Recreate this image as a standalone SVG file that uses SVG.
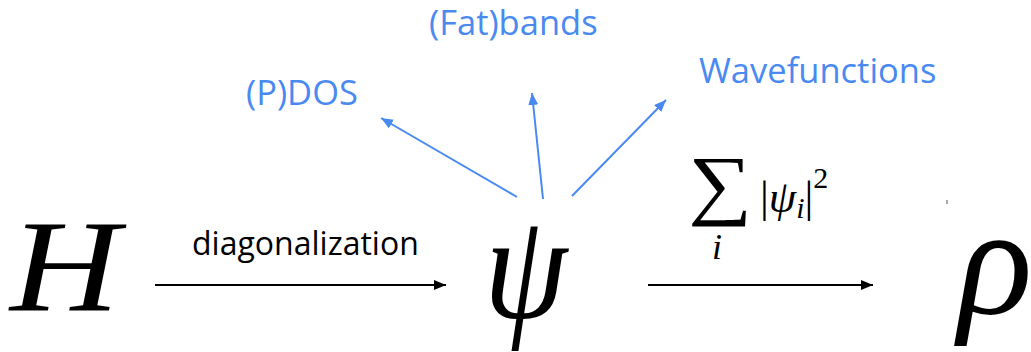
<svg xmlns="http://www.w3.org/2000/svg" width="1031" height="352" viewBox="0 0 1031 352">
<style>
.lbl{font-family:"Open Sans","Noto Sans",sans-serif;fill:#4a8af0}
.blk{font-family:"Open Sans","Noto Sans",sans-serif;fill:#000}
.conn{stroke:#000;stroke-width:2;fill:none}
.bconn{stroke:#4a8af0;stroke-width:2;fill:none}
</style>
<defs>
<marker id="ah" markerWidth="12" markerHeight="10" refX="12" refY="5" orient="auto" markerUnits="userSpaceOnUse">
<path d="M0,0 L12,5 L0,10 Z" fill="#000"/>
</marker>
<marker id="bh" markerWidth="12" markerHeight="10" refX="12" refY="5" orient="auto" markerUnits="userSpaceOnUse">
<path d="M0,0 L12,5 L0,10 Z" fill="#4a8af0"/>
</marker>
</defs>
<g id="node-H"><text transform="translate(10,310) scale(1.15,1)" font-family="Liberation Serif" font-style="italic" font-size="132">H</text></g>
<g id="node-psi"><text transform="translate(484,318) scale(0.88,1)" font-family="Liberation Serif" font-style="italic" font-size="152">ψ</text></g>
<g id="node-rho"><text x="958" y="313" font-family="Liberation Serif" font-style="italic" font-size="155">ρ</text></g>
<g id="node-pdos"><text class="lbl" x="246" y="105" font-size="34.5">(P)DOS</text></g>
<g id="node-fatbands"><text class="lbl" x="429" y="35" font-size="34.5">(Fat)bands</text></g>
<g id="node-wave"><text class="lbl" x="699" y="83" font-size="34.5">Wavefunctions</text></g>
<g id="connectors">
<line class="conn" x1="155" y1="285" x2="446" y2="285" marker-end="url(#ah)"/>
<line class="conn" x1="648" y1="285" x2="873" y2="285" marker-end="url(#ah)"/>
<line class="bconn" x1="517" y1="197" x2="381" y2="118" marker-end="url(#bh)"/>
<line class="bconn" x1="543" y1="199" x2="532" y2="93" marker-end="url(#bh)"/>
<line class="bconn" x1="572" y1="196" x2="666" y2="100" marker-end="url(#bh)"/>
<text class="blk" x="192" y="255" font-size="32">diagonalization</text>
<text transform="translate(688,210) scale(1.15,1)" font-family="Liberation Serif" font-size="78">∑</text>
<text x="712" y="259" font-family="Liberation Serif" font-style="italic" font-size="36">i</text>
<text x="760" y="212" font-family="Liberation Serif" font-size="44">|<tspan font-style="italic">ψ</tspan><tspan font-style="italic" font-size="30" dy="6">i</tspan><tspan dy="-6">|</tspan><tspan font-size="30" dy="-24">2</tspan></text>
</g>
<line x1="947" y1="200" x2="947" y2="204" stroke="#555" stroke-width="1"/>
</svg>
